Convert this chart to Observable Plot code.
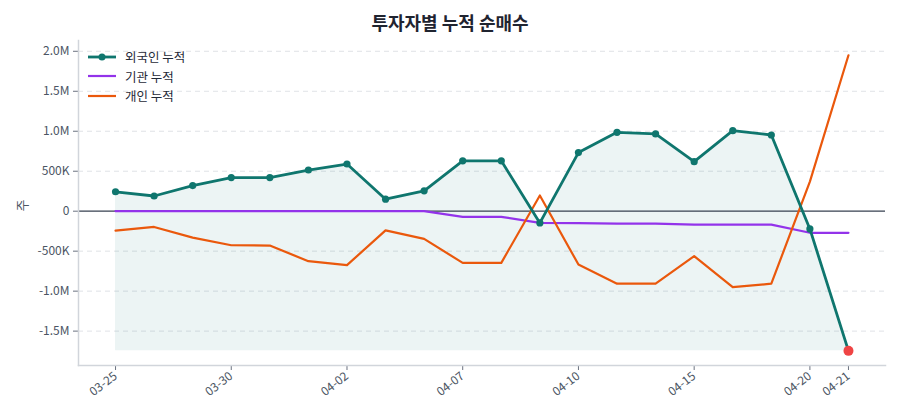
<!DOCTYPE html>
<html>
<head>
<meta charset="utf-8">
<script src="https://cdn.jsdelivr.net/npm/d3@7"></script>
<script src="https://cdn.jsdelivr.net/npm/@observablehq/plot@0.6"></script>
<style>
  html, body { margin: 0; padding: 0; background: #fff; }
  body { width: 900px; height: 420px; overflow: hidden; font-family: "Noto Sans CJK KR", "Noto Sans", sans-serif; position: relative; }
  #title { height: 36px; box-sizing: border-box; padding-top: 7px; line-height: 30px; text-align: center; font-size: 18px; font-weight: 700; color: #1f2430; }
  #legend { position: absolute; left: 87px; top: 47px; font-size: 12.5px; color: #1f2937; }
  #legend .row { display: flex; align-items: center; height: 19.5px; }
  #legend svg { margin-right: 8px; }
  #ylabel { position: absolute; left: 16px; top: 196px; font-size: 13px; color: #4b5563; transform: rotate(-90deg); transform-origin: center; }
</style>
</head>
<body>
<div id="title">투자자별 누적 순매수</div>
<div id="chart"></div>
<div id="ylabel">주</div>
<div id="legend"></div>
<script>
const dates = ["03-25","03-26","03-27","03-30","03-31","04-01","04-02","04-03","04-06","04-07",
               "04-08","04-09","04-10","04-13","04-14","04-15","04-16","04-17","04-20","04-21"];
const foreign = [243000,190000,320000,420000,420000,515000,590000,150000,255000,630000,
                 630000,-147000,733000,987000,966000,620000,1007000,953000,-222000,-1747000];
const institution = [0,0,0,0,0,0,0,0,0,-70000,
                     -70000,-147000,-150000,-155000,-155000,-168000,-168000,-168000,-270000,-270000];
const individual = [-243000,-197000,-330000,-426000,-430000,-625000,-675000,-240000,-347000,-646000,
                    -646000,197000,-667000,-907000,-907000,-563000,-950000,-907000,370000,1950000];
const tickDates = ["03-25","03-30","04-02","04-07","04-10","04-15","04-20","04-21"];
const seriesNames = ["외국인 누적","기관 누적","개인 누적"];
const seriesColors = ["#0f766e","#9333ea","#ea580c"];

const rows = dates.map((d, i) => ({date: d, foreign: foreign[i], institution: institution[i], individual: individual[i]}));
const minF = d3.min(foreign);
const last = rows[rows.length - 1];

const fmt = v => {
  if (v === 0) return "0";
  const a = Math.abs(v), s = v < 0 ? "-" : "";
  if (a >= 1e6) return s + (a / 1e6).toFixed(1) + "M";
  return s + Math.round(a / 1e3) + "K";
};

const chart = Plot.plot({
  width: 900,
  height: 384,
  marginTop: 4,
  marginBottom: 55,
  marginLeft: 78,
  marginRight: 15,
  style: {fontFamily: "'Noto Sans CJK KR', 'Noto Sans', sans-serif", fontSize: "12px", color: "#4b5563", background: "#fff"},
  x: {type: "point", domain: dates, padding: 0.96, round: false},
  y: {domain: [-1930000, 2135000], ticks: [-1500000,-1000000,-500000,0,500000,1000000,1500000,2000000]},
  marks: [
    Plot.gridY([-1500000,-1000000,-500000,500000,1000000,1500000,2000000], {stroke: "#d1d5db", strokeOpacity: 0.7, strokeDasharray: "5,4"}),
    Plot.areaY(rows, {x: "date", y1: minF, y2: "foreign", fill: "#0f766e", fillOpacity: 0.08, curve: "linear"}),
    Plot.ruleY([0], {stroke: "#374151", strokeWidth: 1.3}),
    Plot.lineY(rows, {x: "date", y: "institution", stroke: seriesColors[1], strokeWidth: 2.2}),
    Plot.lineY(rows, {x: "date", y: "individual", stroke: seriesColors[2], strokeWidth: 2.2}),
    Plot.lineY(rows, {x: "date", y: "foreign", stroke: seriesColors[0], strokeWidth: 2.8}),
    Plot.dot(rows.slice(0, -1), {x: "date", y: "foreign", fill: seriesColors[0], r: 3.6}),
    Plot.dot([last], {x: "date", y: "foreign", fill: "#ef4444", r: 5}),
    Plot.axisY({ticks: [-1500000,-1000000,-500000,0,500000,1000000,1500000,2000000], tickFormat: fmt, tickSize: 5, tickPadding: 4, stroke: "#6b7280", fill: "#4b5563", label: null, fontSize: 12}),
    Plot.axisX({ticks: tickDates, tickSize: 5, tickPadding: 4, tickRotate: -38, stroke: "#6b7280", fill: "#4b5563", label: null, fontSize: 12}),
    Plot.frame({anchor: "left", stroke: "#d1d5db", strokeWidth: 1.5}),
    Plot.frame({anchor: "bottom", stroke: "#d1d5db", strokeWidth: 1.5})
  ]
});
document.getElementById("chart").appendChild(chart);

const legend = document.getElementById("legend");
seriesNames.forEach((name, i) => {
  const row = document.createElement("div");
  row.className = "row";
  const dot = i === 0 ? `<circle cx="15" cy="6" r="3.5" fill="${seriesColors[i]}"/>` : "";
  row.innerHTML = `<svg width="30" height="12"><line x1="1" x2="29" y1="6" y2="6" stroke="${seriesColors[i]}" stroke-width="${i===0?2.8:2.2}"/>${dot}</svg><span>${name}</span>`;
  legend.appendChild(row);
});
</script>
</body>
</html>
